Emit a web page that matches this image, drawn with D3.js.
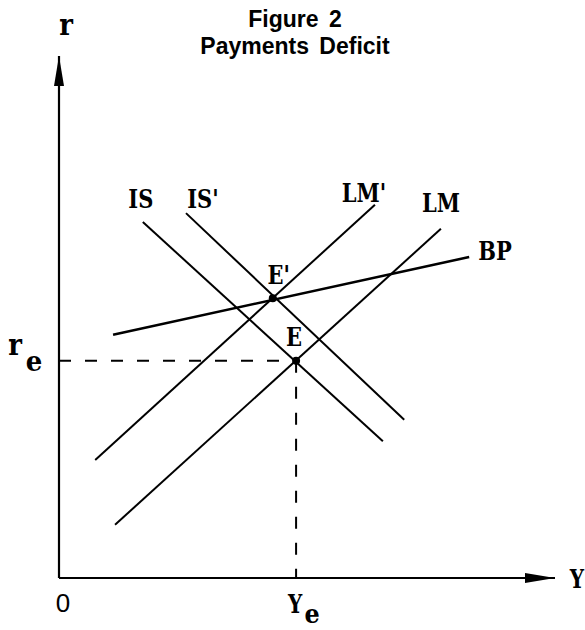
<!DOCTYPE html>
<html>
<head>
<meta charset="utf-8">
<script src="https://cdn.jsdelivr.net/npm/d3@7"></script>
<style>
  html, body { margin: 0; padding: 0; background: #fff; }
  svg { display: block; }
</style>
</head>
<body>
<svg id="chart" width="585" height="630"></svg>
<script>
// ---- data (abstract model units, 0..100 on both axes) ----
const titleLines = ["Figure 2", "Payments Deficit"];
const axisNames = ["Y", "r"];
const originLabel = "0";
const curveNames = ["IS", "IS'", "LM'", "LM", "BP"];
const IS       = [[16.9, 68.2], [65.3, 26.2]];
const ISprime  = [[25.6, 69.9], [69.6, 30.3]];
const LMprime  = [[7.3, 22.6],  [63.7, 71.5]];
const LM       = [[11.3, 10.2], [77.0, 66.9]];
const BP       = [[10.9, 46.6], [82.7, 61.5]];
const eqNames  = ["E", "E'"];
const eqX      = [47.8, 43.1];
const eqY      = [41.6, 53.6];
const tickBase = ["Y", "r"];   // Y_e on x axis, r_e on y axis
const tickSub  = "e";

// ---- layout ----
const svg = d3.select("#chart");
const x = d3.scaleLinear().domain([0, 100]).range([59, 555]);
const y = d3.scaleLinear().domain([0, 100]).range([578, 56]);

const serif = "'DejaVu Serif', 'Liberation Serif', serif";
const sans = "'Liberation Sans', Arial, Helvetica, sans-serif";

// title
svg.selectAll("text.title").data(titleLines).join("text")
  .attr("class", "title")
  .attr("x", 295)
  .attr("y", (d, i) => 27 + i * 27)
  .attr("text-anchor", "middle")
  .attr("font-family", sans)
  .attr("font-weight", "bold")
  .attr("font-size", 23)
  .attr("word-spacing", 4)
  .text(d => d);

// arrow markers
const defs = svg.append("defs");
defs.append("marker")
  .attr("id", "arrow")
  .attr("viewBox", "0 0 30 10")
  .attr("refX", 30).attr("refY", 5)
  .attr("markerWidth", 30).attr("markerHeight", 10)
  .attr("markerUnits", "userSpaceOnUse")
  .attr("orient", "auto")
  .append("path").attr("d", "M0,0 L30,5 L0,10 Z").attr("fill", "#000");

// axes
svg.append("line")
  .attr("x1", x(0)).attr("y1", y(0)).attr("x2", x(100)).attr("y2", y(0))
  .attr("stroke", "#000").attr("stroke-width", 2.2)
  .attr("marker-end", "url(#arrow)");
svg.append("line")
  .attr("x1", x(0)).attr("y1", y(0)).attr("x2", x(0)).attr("y2", y(100))
  .attr("stroke", "#000").attr("stroke-width", 2.2)
  .attr("marker-end", "url(#arrow)");

// helper for vertically stretched serif labels
function label(px, py, txt, size, sy, anchor) {
  const g = svg.append("g").attr("transform", `translate(${px},${py}) scale(1,${sy})`);
  return g.append("text")
    .attr("x", 0).attr("y", 0)
    .attr("text-anchor", anchor || "start")
    .attr("font-family", serif)
    .attr("font-weight", "bold")
    .attr("font-size", size)
    .text(txt);
}

// axis names
label(x(100) + 22, y(0) + 10, axisNames[0], 20, 1.3, "middle");
label(x(0) + 7, 35, axisNames[1], 26, 1.15, "middle");

// origin
svg.append("text")
  .attr("x", x(0) + 4).attr("y", y(0) + 34)
  .attr("text-anchor", "middle")
  .attr("font-family", sans)
  .attr("font-size", 26)
  .text(originLabel);

// dashed guides to E
svg.append("line")
  .attr("x1", x(0)).attr("y1", y(eqY[0])).attr("x2", x(eqX[0])).attr("y2", y(eqY[0]))
  .attr("stroke", "#000").attr("stroke-width", 2).attr("stroke-dasharray", "12,14");
svg.append("line")
  .attr("x1", x(eqX[0])).attr("y1", y(eqY[0])).attr("x2", x(eqX[0])).attr("y2", y(0))
  .attr("stroke", "#000").attr("stroke-width", 2).attr("stroke-dasharray", "12,14");

// tick labels r_e and Y_e
label(x(eqX[0]) - 1, y(0) + 35, tickBase[0], 20, 1.3, "middle");
label(x(eqX[0]) + 16, y(0) + 45, tickSub, 24, 1.05, "middle");
label(15, y(eqY[0]) - 6, tickBase[1], 26, 1.15, "middle");
label(34, y(eqY[0]) + 10, tickSub, 26, 1.05, "middle");

// curves
const curves = [IS, ISprime, LMprime, LM, BP];
const lineGen = d3.line().x(d => x(d[0])).y(d => y(d[1]));
svg.selectAll("path.curve").data(curves).join("path")
  .attr("class", "curve")
  .attr("d", lineGen)
  .attr("fill", "none")
  .attr("stroke", "#000")
  .attr("stroke-width", (d, i) => i === 4 ? 2.6 : 2);

// curve labels near their upper ends
const upperEnd = c => (c[0][1] > c[1][1] ? c[0] : c[1]);
const labelOffsets = [[-2, -14], [17, -5], [-11, -3], [0, -17], [9, 3]];
const labelAnchors = ["middle", "middle", "middle", "middle", "start"];
curves.forEach((c, i) => {
  const p = upperEnd(c);
  label(x(p[0]) + labelOffsets[i][0], y(p[1]) + labelOffsets[i][1],
        curveNames[i], 21, 1.2, labelAnchors[i]);
});

// equilibrium points
svg.selectAll("circle.eq").data(eqX).join("circle")
  .attr("class", "eq")
  .attr("cx", d => x(d))
  .attr("cy", (d, i) => y(eqY[i]))
  .attr("r", 4)
  .attr("fill", "#000");
label(x(eqX[0]) - 2, y(eqY[0]) - 15, eqNames[0], 21, 1.2, "middle");
label(x(eqX[1]) + 6, y(eqY[1]) - 14, eqNames[1], 21, 1.2, "middle");
</script>
</body>
</html>
